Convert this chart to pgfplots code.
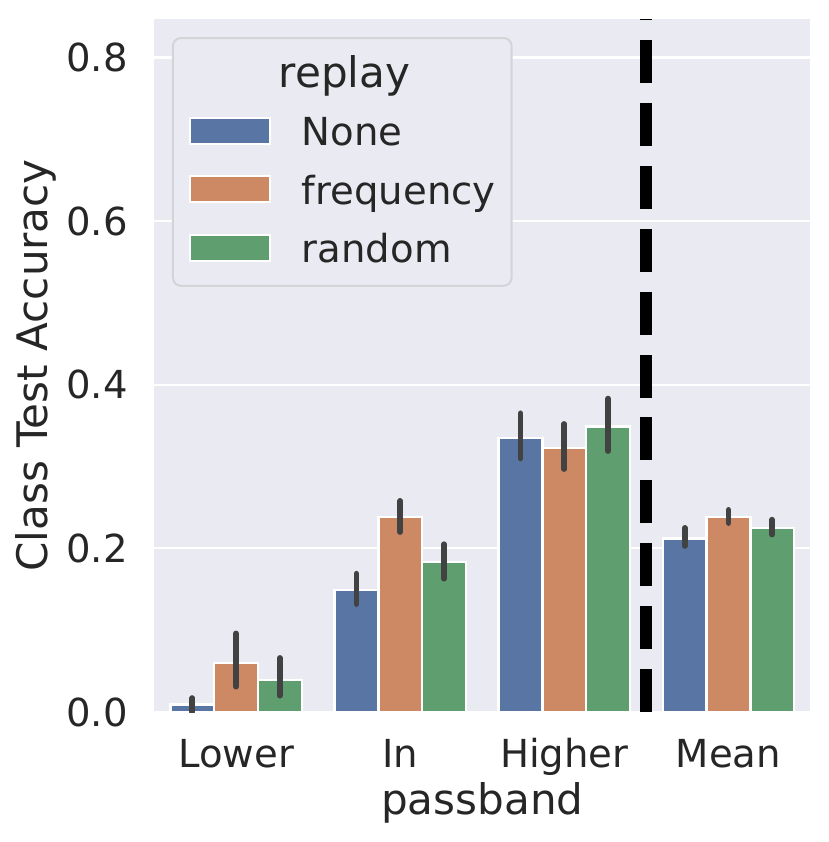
\documentclass[border=0pt]{standalone}
\usepackage{fontspec}
\setmainfont{DejaVu Sans}
\usepackage{pgfplots}
\pgfplotsset{compat=1.18}
\definecolor{bg}{HTML}{EAEAF2}
\definecolor{cNone}{HTML}{5875A4}
\definecolor{cFreq}{HTML}{CC8963}
\definecolor{cRand}{HTML}{5F9E6E}
\definecolor{errc}{HTML}{424242}
\definecolor{txt}{HTML}{262626}
\definecolor{legedge}{HTML}{D3D3D8}
\newcommand\fA{\fontsize{19.3}{23}\selectfont}
\newcommand\fB{\fontsize{21.05}{25}\selectfont}
\pgfplotsset{
  mybar/.style={ybar, bar width=0.26667, bar shift=0pt, fill=#1, draw=white, line width=1.2pt,
    legend image code/.code={\fill[#1, draw=white, line width=1pt, rounded corners=0pt] (0pt,-5.5pt) rectangle (40pt,7.5pt);},
    error bars/.cd, y dir=both, y explicit, error mark=none,
    error bar style={line width=2.9pt, errc, line cap=round, solid}},
}
\begin{document}
\begin{tikzpicture}[font=\fA]
\path[use as bounding box] (-77pt,-65pt) rectangle (337.5pt,356pt);
\begin{axis}[
  at={(0,0)}, anchor=south west,
  scale only axis, width=328.25pt, height=346.5pt,
  xmin=-0.5, xmax=3.5, ymin=0, ymax=0.847,
  axis background/.style={fill=bg},
  axis line style={draw=none},
  major tick length=0pt, tick style={draw=none},
  ymajorgrids, grid style={white, line width=1.1pt},
  xtick={0,1,2,3}, xticklabels={Lower,In,Higher,Mean},
  ytick={0,0.2,0.4,0.6,0.8},
  yticklabel style={font=\fA, anchor=east, inner sep=0pt, xshift=-13pt, text=txt,
    /pgf/number format/fixed, /pgf/number format/fixed zerofill,
    /pgf/number format/precision=1, /pgf/number format/assume math mode=true},
  xticklabel style={font=\fA, anchor=north, inner sep=0pt, yshift=-12.5pt, text height=15pt, text depth=4pt, text=txt},
  xlabel={passband}, ylabel={Class Test Accuracy},
  every axis x label/.style={at={(axis description cs:0.5,-0.1486)}, anchor=base, inner sep=0pt, font=\fB, text=txt},
  every axis y label/.style={at={(axis description cs:-0.1797,0.5)}, rotate=90, anchor=center, inner sep=0pt, font=\fB, text=txt},
  legend style={at={(0,1)}, anchor=north west, xshift=9pt, yshift=-9pt,
    fill=bg, draw=legedge, line width=1pt, rounded corners=4pt,
    inner xsep=8pt, inner ysep=9.5pt, row sep=12.3pt, font=\fA,
    nodes={inner sep=0pt, text height=15pt, text depth=2pt, text=txt},
    /tikz/every odd column/.append style={column sep=15.5pt}},
  legend cell align=left,
]
\addlegendimage{empty legend}
\addlegendentry{\hspace*{-11.6pt}{\fB replay}}

\addplot[mybar=cNone] coordinates {
  (-0.26667,0.009) += (0,0.008) -= (0,0.009)
  (0.73333,0.149) += (0,0.020) -= (0,0.017)
  (1.73333,0.335) += (0,0.030) -= (0,0.025)
  (2.73333,0.212) += (0,0.013) -= (0,0.009)
};
\addlegendentry{None}

\addplot[mybar=cFreq] coordinates {
  (0,0.060) += (0,0.036) -= (0,0.029)
  (1,0.238) += (0,0.020) -= (0,0.018)
  (2,0.323) += (0,0.029) -= (0,0.026)
  (3,0.238) += (0,0.009) -= (0,0.007)
};
\addlegendentry{frequency}

\addplot[mybar=cRand] coordinates {
  (0.26667,0.039) += (0,0.027) -= (0,0.019)
  (1.26667,0.183) += (0,0.022) -= (0,0.020)
  (2.26667,0.349) += (0,0.034) -= (0,0.030)
  (3.26667,0.225) += (0,0.010) -= (0,0.008)
};
\addlegendentry{random}

\addplot[black, line width=6pt, dash pattern=on 21.5pt off 9.95pt, forget plot] coordinates {(2.5,0) (2.5,0.847)};
\end{axis}
\end{tikzpicture}
\end{document}
